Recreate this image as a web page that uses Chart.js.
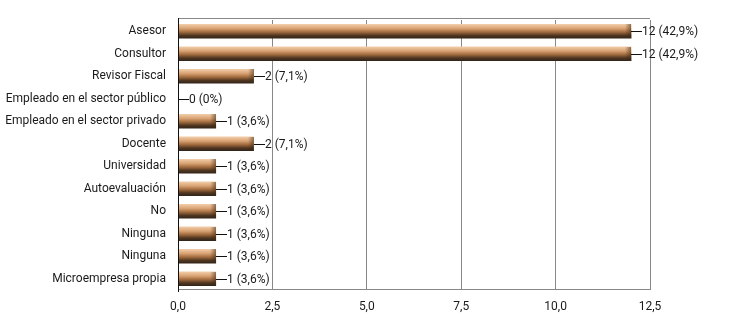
<!DOCTYPE html>
<html>
<head>
<meta charset="utf-8">
<script src="https://cdn.jsdelivr.net/npm/chart.js@4"></script>
<style>
  html, body { margin: 0; padding: 0; background: #fff; }
  #wrap { width: 752px; height: 324px; }
</style>
</head>
<body>
<div id="wrap"><canvas id="chart" width="752" height="324"></canvas></div>
<script>
let categories = ['Asesor', 'Consultor', 'Revisor Fiscal', 'Empleado en el sector público',
  'Empleado en el sector privado', 'Docente', 'Universidad', 'Autoevaluación', 'No',
  'Ninguna', 'Ninguna', 'Microempresa propia'];
let counts = [12, 12, 2, 0, 1, 2, 1, 1, 1, 1, 1, 1];
let percents = ['42,9%', '42,9%', '7,1%', '0%', '3,6%', '7,1%', '3,6%', '3,6%', '3,6%', '3,6%', '3,6%', '3,6%'];
let xTicks = [0, 2.5, 5, 7.5, 10, 12.5];

let font = 'Roboto, "Liberation Sans Narrow", sans-serif';

// vertical copper gradient for each bar
function barFill(c) {
  let chart = c.chart;
  let ys = chart.scales && chart.scales.y;
  if (!chart.chartArea || !ys) return '#b07848';
  let cy = ys.getPixelForValue(c.dataIndex);
  if (!isFinite(cy)) return '#b07848';
  let g = chart.ctx.createLinearGradient(0, cy - 7, 0, cy + 7);
  g.addColorStop(0, '#f2cda8');
  g.addColorStop(0.3, '#d9a273');
  g.addColorStop(0.55, '#a46d40');
  g.addColorStop(0.8, '#4f3620');
  g.addColorStop(1, '#33251a');
  return g;
}

// value labels with leader line, frame lines, bevelled bar ends
let extras = {
  id: 'extras',
  afterDatasetsDraw(chart) {
    let ctx = chart.ctx;
    let area = chart.chartArea;
    ctx.save();
    ctx.strokeStyle = '#888';
    ctx.lineWidth = 1;
    ctx.beginPath();
    ctx.moveTo(area.left, 18.5);
    ctx.lineTo(area.right, 18.5);
    ctx.moveTo(area.left, area.bottom - 0.5);
    ctx.lineTo(area.right, area.bottom - 0.5);
    ctx.stroke();
    ctx.strokeStyle = '#111';
    ctx.beginPath();
    ctx.moveTo(area.left + 0.5, 18);
    ctx.lineTo(area.left + 0.5, area.bottom + 2);
    ctx.stroke();

    let meta = chart.getDatasetMeta(0);
    meta.data.forEach((bar, i) => {
      let x = Math.round(bar.x);
      let y = Math.round(bar.y);
      if (counts[i] > 0) {
        let g = ctx.createLinearGradient(x - 6, 0, x, 0);
        g.addColorStop(0, 'rgba(60,40,20,0)');
        g.addColorStop(1, 'rgba(60,40,20,0.55)');
        ctx.fillStyle = g;
        ctx.fillRect(x - 6, y - 7, 6, 14);
      }
      ctx.strokeStyle = '#111';
      ctx.beginPath();
      ctx.moveTo(x, y + 0.5);
      ctx.lineTo(x + 11, y + 0.5);
      ctx.stroke();
      ctx.fillStyle = '#1a1a1a';
      ctx.font = '12px ' + font;
      ctx.textBaseline = 'middle';
      ctx.textAlign = 'left';
      ctx.fillText(counts[i] + ' (' + percents[i] + ')', x + 11, y + 1);
    });
    ctx.restore();
  }
};

new Chart(document.getElementById('chart'), {
  type: 'bar',
  data: {
    labels: categories,
    datasets: [{
      data: counts,
      backgroundColor: barFill,
      borderWidth: 0,
      barThickness: 14
    }]
  },
  options: {
    indexAxis: 'y',
    responsive: false,
    animation: false,
    layout: { padding: { top: 20, right: 102, left: 0, bottom: 0 } },
    plugins: { legend: { display: false }, tooltip: { enabled: false } },
    scales: {
      x: {
        min: 0, max: 12.5,
        afterBuildTicks: s => { s.ticks = xTicks.map(v => ({ value: v })); },
        afterFit: s => { s.height = 34; },
        grid: { color: '#888', lineWidth: 1, drawTicks: false },
        border: { display: false },
        ticks: {
          color: '#1a1a1a', padding: 10,
          font: { family: font, size: 12 },
          callback: v => v.toFixed(1).replace('.', ',')
        }
      },
      y: {
        afterFit: s => { s.width = 178; },
        grid: { display: false },
        border: { display: false },
        ticks: {
          color: '#1a1a1a', padding: 4,
          font: { family: font, size: 12 }
        }
      }
    }
  },
  plugins: [extras]
});
</script>
</body>
</html>
